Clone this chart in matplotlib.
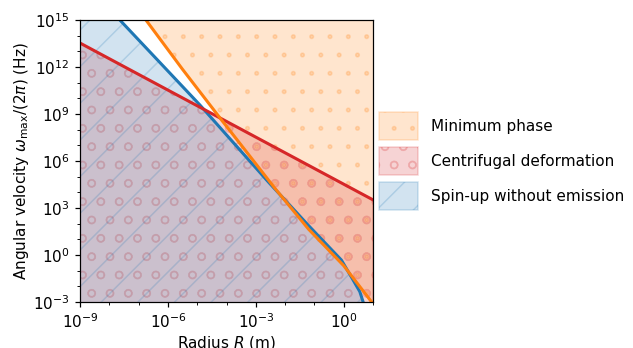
import numpy as np
import matplotlib
matplotlib.use("Agg")
import matplotlib.pyplot as plt
from matplotlib.patches import Patch
from matplotlib.ticker import FixedLocator, NullFormatter

# ---- data (log10 values) ----
# Minimum phase boundary (orange)
log_R_orange = np.array([-6.9, -6.75, -5.5, -4.17, -3.2, -2.35, -1.2, 0.0, 0.945, 1.0])
log_w_orange = np.array([15.4, 15.0, 11.85, 8.62, 6.3, 4.26, 1.65, -0.68, -2.98, -3.1])

# Centrifugal deformation boundary (red)
log_R_red = np.array([-9.0, 1.0])
log_w_red = np.array([13.53, 3.52])

# Spin-up without emission boundary (blue)
log_R_blue = np.array([-7.84, -7.64, -4.91, -2.58, -1.22, -0.08, 0.32, 0.55, 0.66, 0.68])
log_w_blue = np.array([15.4, 15.0, 9.58, 4.68, 1.92, -0.32, -1.59, -2.34, -2.98, -3.1])

labels = ["Minimum phase", "Centrifugal deformation", "Spin-up without emission"]
colors = ["tab:orange", "tab:red", "tab:blue"]
hatches = [".", "o", "/"]

x_major_exp = [-9, -6, -3, 0]
y_major_exp = [-3, 0, 3, 6, 9, 12, 15]

R_o, w_o = 10.0 ** log_R_orange, 10.0 ** log_w_orange
R_r, w_r = 10.0 ** log_R_red, 10.0 ** log_w_red
R_b, w_b = 10.0 ** log_R_blue, 10.0 ** log_w_blue

dpi = 110
fig = plt.figure(figsize=(633 / dpi, 348 / dpi), dpi=dpi)
ax = fig.add_axes([80 / 633, 46 / 348, 293 / 633, 282 / 348])
ax.set_xscale("log")
ax.set_yscale("log")

alpha = 0.2
BIG, SMALL = 1e20, 1e-10
# orange region: right/above the orange curve
ax.fill(np.concatenate([R_o, [BIG, BIG]]), np.concatenate([w_o, [SMALL, BIG]]),
        facecolor=colors[0], edgecolor=colors[0], alpha=alpha, hatch=hatches[0])
# red region: below the red line
ax.fill_between(R_r, SMALL, w_r, facecolor=colors[1], edgecolor=colors[1],
                alpha=alpha, hatch=hatches[1])
# blue region: left/below the blue curve
ax.fill(np.concatenate([R_b, [SMALL, SMALL]]), np.concatenate([w_b, [SMALL, BIG]]),
        facecolor=colors[2], edgecolor=colors[2], alpha=alpha, hatch=hatches[2])

ax.plot(R_b, w_b, color=colors[2], lw=2)
ax.plot(R_r, w_r, color=colors[1], lw=2)
ax.plot(R_o, w_o, color=colors[0], lw=2)

ax.set_xlim(1e-9, 1e1)
ax.set_ylim(1e-3, 1e15)

ax.xaxis.set_major_locator(FixedLocator([10.0 ** k for k in x_major_exp]))
ax.xaxis.set_minor_locator(FixedLocator([10.0 ** k for k in range(-9, 2) if k not in x_major_exp]))
ax.yaxis.set_major_locator(FixedLocator([10.0 ** k for k in y_major_exp]))
ax.yaxis.set_minor_locator(FixedLocator([10.0 ** k for k in range(-3, 16) if k not in y_major_exp]))
ax.xaxis.set_minor_formatter(NullFormatter())
ax.yaxis.set_minor_formatter(NullFormatter())

ax.set_xlabel(r"Radius $R$ (m)", labelpad=1.5)
ax.set_ylabel(r"Angular velocity $\omega_\mathrm{max}/(2\pi)$ (Hz)", labelpad=1.5)

handles = [Patch(facecolor=c, edgecolor=c, alpha=alpha, hatch=h, label=l)
           for c, h, l in zip(colors, hatches, labels)]
ax.legend(handles=handles, loc="center left", bbox_to_anchor=(1.0, 0.5),
          frameon=False, borderaxespad=0.0, handlelength=2.57,
          handleheight=2.47, labelspacing=0.44, fontsize=10)

fig.savefig("out.png", dpi=dpi)
